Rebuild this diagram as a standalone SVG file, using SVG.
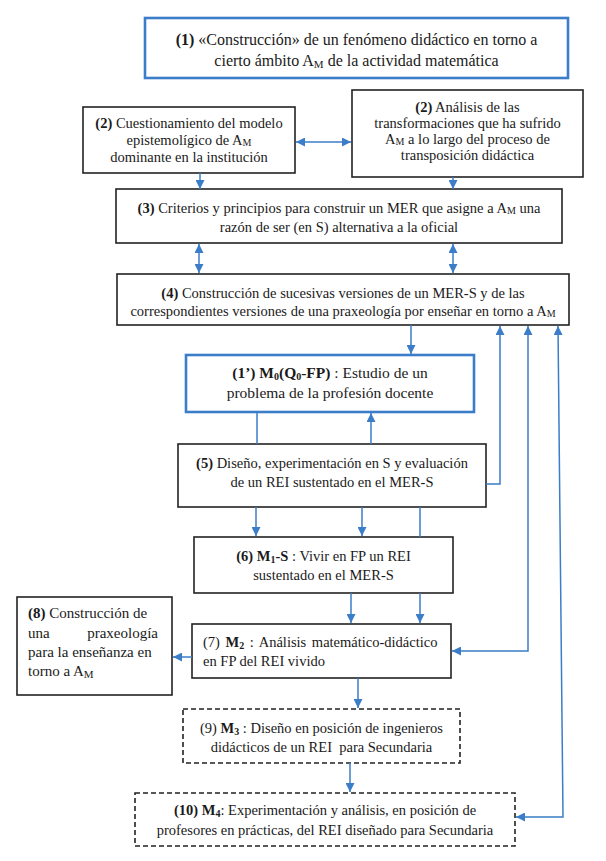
<svg xmlns="http://www.w3.org/2000/svg" width="606" height="861" viewBox="0 0 606 861">
<defs>
<marker id="ah" viewBox="0 0 10 10" refX="10" refY="5" markerWidth="9" markerHeight="9" markerUnits="userSpaceOnUse" orient="auto-start-reverse"><path d="M0,0 L10,5 L0,10 z" fill="#3b7dc8"/></marker>
</defs>
<style>
text{font-family:"Liberation Serif","Times New Roman",serif;font-size:14.5px;fill:#1a1a1a}
.c{text-anchor:middle}
.b{font-weight:bold}
.sub{font-size:10px}
.box{fill:#fff;stroke:#222;stroke-width:1.6}
.blue{fill:#fff;stroke:#3b7dc8;stroke-width:2.6}
.dash{fill:#fff;stroke:#222;stroke-width:1.6;stroke-dasharray:5 3}
.con path,.con line{fill:none;stroke:#3b7dc8;stroke-width:1.5}
</style>
<rect width="606" height="861" fill="#fff"/>

<g id="n1">
<rect class="blue" x="145" y="18" width="423" height="60"/>
<text class="c" x="356.5" y="45" style="font-size:16px"><tspan class="b">(1)</tspan> «Construcción» de un fenómeno didáctico en torno a</text>
<text class="c" x="356.5" y="66" style="font-size:16px">cierto ámbito A<tspan class="sub" dy="2" style="font-size:11px">M</tspan><tspan dy="-2"> de la actividad matemática</tspan></text>
</g>

<g id="n2a">
<rect class="box" x="83" y="107" width="212" height="66"/>
<text class="c" x="189" y="128"><tspan class="b">(2)</tspan> Cuestionamiento del modelo</text>
<text class="c" x="189" y="145">epistemolígico de A<tspan class="sub" dy="1">M</tspan></text>
<text class="c" x="189" y="162">dominante en la institución</text>
</g>

<g id="n2b">
<rect class="box" x="352" y="90" width="231" height="87"/>
<text class="c" x="467.5" y="112"><tspan class="b">(2)</tspan> Análisis de las</text>
<text class="c" x="467.5" y="128">transformaciones que ha sufrido</text>
<text class="c" x="467.5" y="144">A<tspan class="sub" dy="1">M</tspan><tspan dy="-1"> a lo largo del proceso de</tspan></text>
<text class="c" x="467.5" y="160">transposición didáctica</text>
</g>

<g id="n3">
<rect class="box" x="116" y="189" width="446" height="54"/>
<text class="c" x="339" y="213"><tspan class="b">(3)</tspan> Criterios y principios para construir un MER que asigne a A<tspan class="sub" dy="1">M</tspan><tspan dy="-1"> una</tspan></text>
<text class="c" x="339" y="232">razón de ser (en S) alternativa a la oficial</text>
</g>

<g id="n4">
<rect class="box" x="117" y="274" width="452" height="51"/>
<text class="c" x="343" y="298"><tspan class="b">(4)</tspan> Construcción de sucesivas versiones de un MER-S y de las</text>
<text class="c" x="343" y="316">correspondientes versiones de una praxeología por enseñar en torno a A<tspan class="sub" dy="1">M</tspan></text>
</g>

<g id="n1p">
<rect class="blue" x="186" y="355" width="288" height="57"/>
<text class="c" x="330" y="378" style="font-size:15.5px"><tspan class="b">(1’) M</tspan><tspan class="b sub" dy="2">0</tspan><tspan class="b" dy="-2">(Q</tspan><tspan class="b sub" dy="2">0</tspan><tspan class="b" dy="-2">-FP)</tspan> : Estudio de un</text>
<text class="c" x="330" y="398" style="font-size:15.5px">problema de la profesión docente</text>
</g>

<g id="n5">
<rect class="box" x="178" y="444" width="308" height="63"/>
<text class="c" x="332" y="468"><tspan class="b">(5)</tspan> Diseño, experimentación en S y evaluación</text>
<text class="c" x="332" y="487">de un REI sustentado en el MER-S</text>
</g>

<g id="n6">
<rect class="box" x="194" y="537" width="259" height="56"/>
<text class="c" x="323.5" y="561"><tspan class="b">(6) M</tspan><tspan class="b sub" dy="2">1</tspan><tspan class="b" dy="-2">-S</tspan> : Vivir en FP un REI</text>
<text class="c" x="323.5" y="580">sustentado en el MER-S</text>
</g>

<g id="n7">
<rect class="box" x="192" y="624" width="259" height="54"/>
<text x="203" y="647" word-spacing="2">(7) <tspan class="b">M</tspan><tspan class="b sub" dy="2">2</tspan><tspan dy="-2"> : Análisis matemático-didáctico</tspan></text>
<text x="203" y="666">en FP del REI vivido</text>
</g>

<g id="n8">
<rect class="box" x="17" y="597" width="155" height="98"/>
<text x="28" y="618" style="font-size:15px"><tspan class="b">(8)</tspan> Construcción de</text>
<text x="28" y="638" style="font-size:15px">una</text>
<text x="158" y="638" style="font-size:15px;text-anchor:end">praxeología</text>
<text x="28" y="657" style="font-size:15px">para la enseñanza en</text>
<text x="28" y="676" style="font-size:15px">torno a A<tspan class="sub" dy="2" style="font-size:11px">M</tspan></text>
</g>

<g id="n9">
<rect class="dash" x="183" y="709" width="277" height="54"/>
<text class="c" x="321.5" y="733">(9) <tspan class="b">M</tspan><tspan class="b sub" dy="2">3</tspan><tspan dy="-2"> : Diseño en posición de ingenieros</tspan></text>
<text class="c" x="321.5" y="752" xml:space="preserve">didácticos de un REI  para Secundaria</text>
</g>

<g id="n10">
<rect class="dash" x="135" y="793" width="380" height="53"/>
<text class="c" x="325" y="815"><tspan class="b">(10) M</tspan><tspan class="b sub" dy="2">4</tspan><tspan dy="-2">: Experimentación y análisis, en posición de</tspan></text>
<text class="c" x="325" y="835">profesores en prácticas, del REI diseñado para Secundaria</text>
</g>

<g id="connectors" class="con">
<line x1="296" y1="142" x2="351" y2="142" marker-start="url(#ah)" marker-end="url(#ah)"/>
<line x1="200" y1="173" x2="200" y2="189" marker-end="url(#ah)"/>
<line x1="453" y1="177" x2="453" y2="189" marker-end="url(#ah)"/>
<line x1="199" y1="244" x2="199" y2="273" marker-start="url(#ah)" marker-end="url(#ah)"/>
<line x1="453" y1="244" x2="453" y2="273" marker-start="url(#ah)" marker-end="url(#ah)"/>
<line x1="411" y1="325" x2="411" y2="354" marker-end="url(#ah)"/>
<line x1="257" y1="413" x2="257" y2="444"/>
<line x1="371" y1="444" x2="371" y2="413" marker-end="url(#ah)"/>
<path d="M486,484 H500 V326" marker-end="url(#ah)"/>
<path d="M452,651 H528 V326" marker-start="url(#ah)" marker-end="url(#ah)"/>
<path d="M516,817 H563 L558,326" marker-start="url(#ah)" marker-end="url(#ah)"/>
<line x1="256" y1="507" x2="256" y2="536" marker-end="url(#ah)"/>
<line x1="362" y1="507" x2="362" y2="536" marker-end="url(#ah)"/>
<line x1="420" y1="507" x2="420" y2="537"/>
<line x1="351" y1="593" x2="351" y2="623" marker-end="url(#ah)"/>
<line x1="420" y1="593" x2="420" y2="623" marker-end="url(#ah)"/>
<line x1="192" y1="657" x2="173" y2="657" marker-end="url(#ah)"/>
<line x1="358" y1="678" x2="358" y2="708" marker-end="url(#ah)"/>
<line x1="350" y1="763" x2="350" y2="792" marker-end="url(#ah)"/>
</g>
</svg>
